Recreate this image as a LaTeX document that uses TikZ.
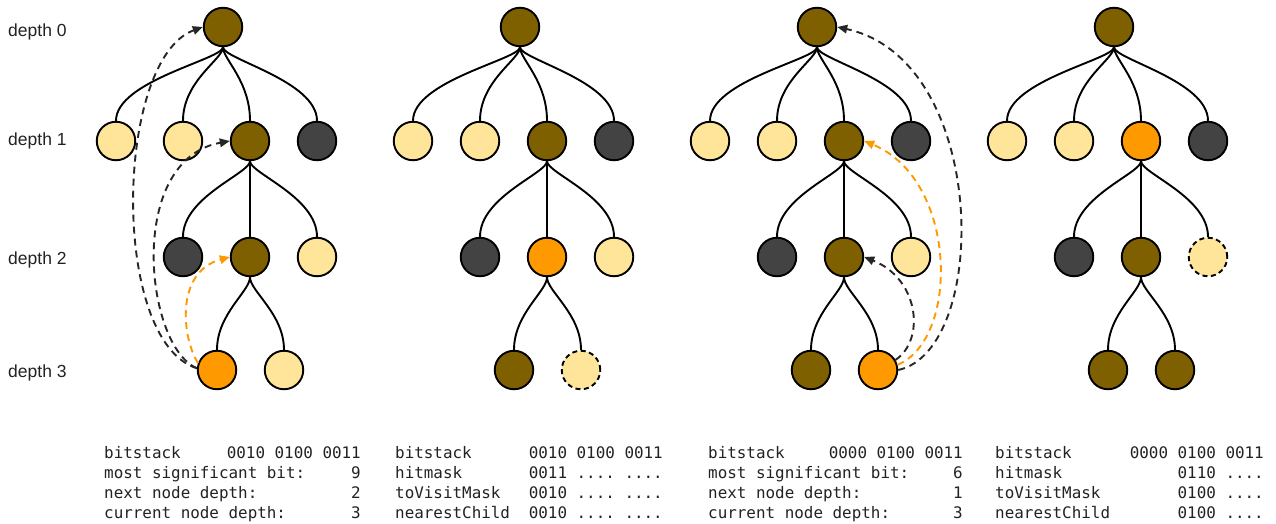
\documentclass[tikz,border=0pt]{standalone}
\usepackage{fontspec}
\setmainfont{Liberation Sans}
\setmonofont{DejaVu Sans Mono}
\usetikzlibrary{arrows.meta}
\definecolor{cbr}{HTML}{7F6000}
\definecolor{cly}{HTML}{FFE599}
\definecolor{cor}{HTML}{FF9900}
\definecolor{cgr}{HTML}{434343}
\definecolor{ctx}{HTML}{222222}
\newcommand\fourdots{....}
\begin{document}
\begin{tikzpicture}[x=1pt,y=-1pt,
  tn/.style={circle, draw=black, line width=1.9pt, minimum size=38.5pt, inner sep=0pt},
  nbr/.style={tn, fill=cbr},
  nly/.style={tn, fill=cly},
  nor/.style={tn, fill=cor},
  ngr/.style={tn, fill=cgr},
  nghost/.style={tn, fill=cly, dash pattern=on 5pt off 3.5pt},
  twig/.style={line width=1.9pt, black},
  jump/.style={line width=1.9pt, dash pattern=on 7pt off 5pt, -{Triangle[length=10pt,width=8.5pt]}},
  lbl/.style={font=\fontsize{17.5}{20}\selectfont, text=ctx, inner sep=0pt, anchor=base west},
  mono/.style={font=\fontsize{15.9}{18}\selectfont\ttfamily, text=ctx, inner sep=0pt}
]
\useasboundingbox (0,0) rectangle (1276,524);

% depth labels
\node[lbl] (dl0) at (8,37) {depth 0};
\node[lbl] (dl1) at (8,146) {depth 1};
\node[lbl] (dl2) at (8,264) {depth 2};
\node[lbl] (dl3) at (8,377) {depth 3};

% tree 1
\node[nbr] (t1-r) at (223,27) {};
\node[nly] (t1-a1) at (116,141) {};
\node[nly] (t1-a2) at (183,141) {};
\node[nbr] (t1-a3) at (250,141) {};
\node[ngr] (t1-a4) at (317,141) {};
\node[ngr] (t1-b1) at (183,257) {};
\node[nbr] (t1-b2) at (250,257) {};
\node[nly] (t1-b3) at (317,257) {};
\node[nor] (t1-c1) at (217,370) {};
\node[nly] (t1-c2) at (284,370) {};

% tree 2
\node[nbr] (t2-r) at (520,27) {};
\node[nly] (t2-a1) at (413,141) {};
\node[nly] (t2-a2) at (480,141) {};
\node[nbr] (t2-a3) at (547,141) {};
\node[ngr] (t2-a4) at (614,141) {};
\node[ngr] (t2-b1) at (480,257) {};
\node[nor] (t2-b2) at (547,257) {};
\node[nly] (t2-b3) at (614,257) {};
\node[nbr] (t2-c1) at (514,370) {};
\node[nghost] (t2-c2) at (581,370) {};

% tree 3
\node[nbr] (t3-r) at (817,27) {};
\node[nly] (t3-a1) at (710,141) {};
\node[nly] (t3-a2) at (777,141) {};
\node[nbr] (t3-a3) at (844,141) {};
\node[ngr] (t3-a4) at (911,141) {};
\node[ngr] (t3-b1) at (777,257) {};
\node[nbr] (t3-b2) at (844,257) {};
\node[nly] (t3-b3) at (911,257) {};
\node[nbr] (t3-c1) at (811,370) {};
\node[nor] (t3-c2) at (878,370) {};

% tree 4
\node[nbr] (t4-r) at (1114,27) {};
\node[nly] (t4-a1) at (1007,141) {};
\node[nly] (t4-a2) at (1074,141) {};
\node[nor] (t4-a3) at (1141,141) {};
\node[ngr] (t4-a4) at (1208,141) {};
\node[ngr] (t4-b1) at (1074,257) {};
\node[nbr] (t4-b2) at (1141,257) {};
\node[nghost] (t4-b3) at (1208,257) {};
\node[nbr] (t4-c1) at (1108,370) {};
\node[nbr] (t4-c2) at (1175,370) {};

% tree edges
\foreach \i in {1,2,3,4}{
  \foreach \k in {1,2,3,4}
    \draw[twig] (t\i-r.south) .. controls +(0,12) and +(0,-40) .. (t\i-a\k.north);
  \draw[twig] (t\i-a3.south) .. controls +(0,12) and +(0,-40) .. (t\i-b1.north);
  \draw[twig] (t\i-a3.south) -- (t\i-b2.north);
  \draw[twig] (t\i-a3.south) .. controls +(0,12) and +(0,-40) .. (t\i-b3.north);
  \foreach \k in {1,2}
    \draw[twig] (t\i-b2.south) .. controls +(0,14) and +(0,-36) .. (t\i-c\k.north);
}

% jumps in tree 1
\draw[jump, black!85] (t1-c1.175) .. controls +(-87,-27) and +(-88,32) .. (t1-r.west);
\draw[jump, black!85] (t1-c1.175) .. controls +(-52,-22) and +(-104,19) .. (t1-a3.west);
\draw[jump, cor] (t1-c1.160) .. controls +(-16,-25) and +(-55,15) .. (t1-b2.west);

% jumps in tree 3
\draw[jump, black!85] (t3-c2.0) .. controls +(92,-20) and +(152,33) .. (t3-r.east);
\draw[jump, cor] (t3-c2.15) .. controls +(62,-25) and +(94,39) .. (t3-a3.east);
\draw[jump, black!85] (t3-c2.30) .. controls +(30,-20) and +(55,22) .. (t3-b2.east);

% text blocks
\foreach \c/\xl/\xr/\la/\va/\lb/\vb/\lc/\vc/\ld/\vd in {
  1/104/361/bitstack/0010 0100 0011/most significant bit:/9/next node depth:/2/current node depth:/3,
  2/395/663/bitstack/0010 0100 0011/hitmask/0011 \fourdots{} \fourdots/toVisitMask/0010 \fourdots{} \fourdots/nearestChild/0010 \fourdots{} \fourdots,
  3/708/963/bitstack/0000 0100 0011/most significant bit:/6/next node depth:/1/current node depth:/3,
  4/995/1264/bitstack/0000 0100 0011/hitmask/0110 \fourdots/toVisitMask/0100 \fourdots/nearestChild/0100 \fourdots}{
  \node[mono, anchor=base west] (k\c-1) at (\xl,458) {\la};
  \node[mono, anchor=base east] (v\c-1) at (\xr,458) {\va};
  \node[mono, anchor=base west] (k\c-2) at (\xl,478) {\lb};
  \node[mono, anchor=base east] (v\c-2) at (\xr,478) {\vb};
  \node[mono, anchor=base west] (k\c-3) at (\xl,498) {\lc};
  \node[mono, anchor=base east] (v\c-3) at (\xr,498) {\vc};
  \node[mono, anchor=base west] (k\c-4) at (\xl,518) {\ld};
  \node[mono, anchor=base east] (v\c-4) at (\xr,518) {\vd};
}
\end{tikzpicture}
\end{document}
